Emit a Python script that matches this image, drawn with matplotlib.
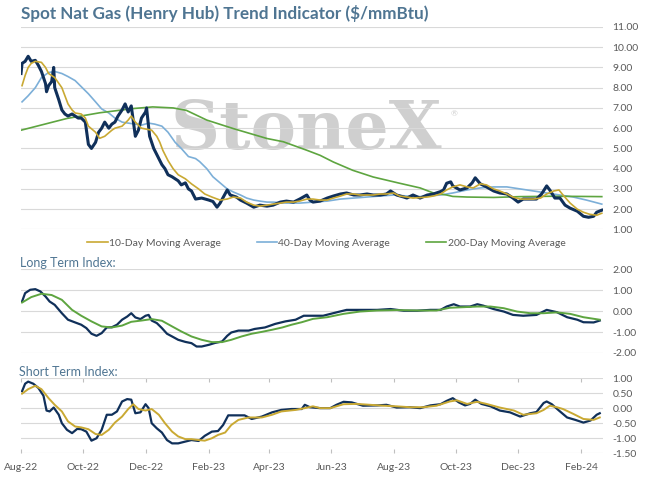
import matplotlib
matplotlib.use('Agg')
import matplotlib.pyplot as plt
import matplotlib.dates as mdates
from matplotlib.ticker import FormatStrFormatter, MultipleLocator
import pandas as pd

plt.rcParams['font.family'] = ['Lato', 'DejaVu Sans']
plt.rcParams['axes.unicode_minus'] = False

START = pd.Timestamp('2022-08-01')

# --- spot price and moving averages ($/mmBtu), x = days since START ---
price_days = [0, 1, 4, 7, 10, 14, 17, 20, 24, 25, 27, 30, 32, 33, 37, 40, 43, 46, 50, 53,
              56, 59, 63, 66, 69, 73, 76, 79, 82, 86, 89, 92, 95, 99, 102, 105, 108, 112,
              115, 118, 122, 123, 126, 130, 135, 138, 141, 144, 148, 151, 154, 157, 161,
              164, 167, 171, 177, 184, 188, 192, 195, 202, 205, 208, 211, 215, 221, 228,
              234, 241, 247, 254, 260, 267, 273, 280, 283, 286, 293, 300, 306, 313, 319,
              326, 332, 339, 345, 352, 358, 362, 368, 375, 378, 384, 391, 398, 404, 411,
              414, 417, 421, 423, 430, 437, 442, 445, 450, 456, 463, 469, 476, 482, 487,
              492, 499, 505, 510, 515, 518, 523, 528, 533, 538, 545, 551, 556, 561, 564, 569]
price = [8.7, 9.2, 9.3, 9.55, 9.3, 9.35, 9.1, 8.8, 8.2, 7.8, 8.1, 8.3, 9.0, 8.0, 7.4, 6.9,
         6.7, 6.6, 6.7, 6.6, 6.5, 6.5, 6.3, 5.2, 5.0, 5.3, 5.8, 6.0, 6.3, 6.0, 6.2, 6.3, 6.6,
         6.9, 7.2, 6.8, 7.1, 5.6, 5.9, 6.5, 6.8, 7.0, 5.6, 5.0, 4.5, 4.2, 4.0, 3.7, 3.6, 3.5,
         3.4, 3.2, 3.3, 3.0, 2.9, 2.5, 2.55, 2.45, 2.38, 2.1, 2.3, 2.95, 2.7, 2.65, 2.6,
         2.45, 2.3, 2.1, 2.2, 2.15, 2.2, 2.35, 2.4, 2.35, 2.5, 2.7, 2.45, 2.35, 2.4, 2.55,
         2.65, 2.75, 2.8, 2.7, 2.7, 2.75, 2.7, 2.7, 2.75, 2.9, 2.7, 2.6, 2.55, 2.7, 2.55,
         2.7, 2.75, 2.87, 2.95, 3.28, 3.35, 3.15, 2.95, 3.05, 3.3, 3.55, 3.25, 3.1, 2.9,
         2.8, 2.75, 2.55, 2.35, 2.5, 2.5, 2.5, 2.75, 3.15, 2.95, 2.55, 2.55, 2.2, 2.05, 1.9,
         1.65, 1.6, 1.65, 1.85, 1.95]

ma10_days = [1, 4, 7, 10, 14, 20, 24, 27, 30, 33, 40, 43, 46, 50, 53, 59, 63, 66, 73, 77,
             82, 89, 92, 99, 105, 108, 112, 118, 123, 128, 133, 136, 139, 144, 149, 154,
             161, 167, 174, 180, 187, 195, 202, 208, 215, 221, 228, 234, 241, 247, 254,
             260, 267, 273, 280, 286, 293, 300, 306, 313, 319, 326, 332, 339, 345, 352,
             358, 365, 371, 378, 384, 398, 404, 411, 417, 423, 430, 437, 443, 450, 456,
             463, 469, 476, 482, 489, 496, 502, 509, 515, 522, 527, 531, 538, 545, 551,
             557, 564, 569]
ma10 = [8.1, 8.6, 9.0, 9.2, 9.3, 9.25, 9.0, 8.7, 8.6, 8.5, 8.0, 7.6, 7.2, 6.9, 6.75, 6.7,
        6.5, 6.1, 5.8, 5.5, 5.6, 5.9, 6.0, 6.1, 6.4, 6.6, 6.3, 6.0, 5.95, 5.9, 5.6, 5.3,
        4.9, 4.4, 4.0, 3.7, 3.5, 3.25, 3.0, 2.75, 2.6, 2.45, 2.5, 2.6, 2.55, 2.35, 2.2,
        2.15, 2.2, 2.25, 2.3, 2.35, 2.35, 2.4, 2.5, 2.5, 2.45, 2.45, 2.55, 2.65, 2.75,
        2.75, 2.7, 2.7, 2.7, 2.75, 2.75, 2.8, 2.65, 2.6, 2.55, 2.6, 2.65, 2.75, 2.95, 3.1,
        3.2, 3.1, 3.05, 3.25, 3.2, 3.0, 2.9, 2.75, 2.6, 2.5, 2.5, 2.5, 2.55, 2.75, 2.9,
        2.95, 2.7, 2.3, 2.0, 1.85, 1.75, 1.7, 1.8]

ma40_days = [1, 7, 14, 20, 27, 33, 40, 46, 53, 59, 66, 73, 79, 86, 92, 99, 105, 112, 118,
             125, 131, 138, 144, 151, 157, 164, 171, 175, 182, 188, 195, 202, 208, 215,
             221, 228, 234, 241, 247, 260, 273, 286, 300, 313, 326, 339, 352, 365, 378,
             384, 398, 411, 423, 437, 450, 463, 476, 489, 502, 515, 528, 541, 554, 569]
ma40 = [7.3, 7.6, 8.0, 8.5, 8.75, 8.8, 8.7, 8.55, 8.35, 8.05, 7.7, 7.3, 6.95, 6.75, 6.5,
        6.3, 6.25, 6.2, 6.15, 6.25, 6.2, 6.1, 5.8, 5.3, 5.0, 4.6, 4.5, 4.35, 4.0, 3.6, 3.3,
        3.0, 2.85, 2.7, 2.55, 2.45, 2.4, 2.35, 2.35, 2.3, 2.3, 2.35, 2.4, 2.5, 2.55, 2.6,
        2.65, 2.7, 2.65, 2.6, 2.65, 2.7, 2.8, 2.95, 3.05, 3.1, 3.1, 3.0, 2.9, 2.8, 2.7,
        2.6, 2.45, 2.25]

ma200_days = [0, 45, 77, 110, 129, 149, 162, 182, 208, 241, 257, 280, 293, 306, 325, 345,
              371, 391, 404, 417, 423, 437, 463, 489, 521, 548, 569]
ma200 = [5.9, 6.48, 6.76, 6.97, 7.05, 7.0, 6.88, 6.4, 5.98, 5.49, 5.33, 4.91, 4.66, 4.33,
         3.92, 3.59, 3.28, 3.05, 2.8, 2.7, 2.63, 2.6, 2.58, 2.62, 2.64, 2.63, 2.62]

# --- long term index ---
lt_days = [1, 4, 9, 14, 19, 24, 28, 33, 40, 46, 53, 59, 64, 69, 74, 79, 84, 89, 94, 99,
           104, 108, 112, 117, 122, 125, 128, 133, 138, 143, 148, 154, 161, 167, 172, 177,
           184, 190, 197, 202, 206, 213, 223, 229, 239, 249, 259, 269, 277, 286, 296, 309,
           319, 336, 349, 362, 375, 388, 401, 411, 417, 424, 430, 440, 447, 453, 463, 473,
           482, 492, 505, 515, 525, 535, 545, 551, 561, 567]
lt_index = [0.46, 0.86, 1.02, 1.05, 0.94, 0.7, 0.46, 0.3, -0.1, -0.41, -0.54, -0.65, -0.81,
            -1.08, -1.18, -1.05, -0.78, -0.77, -0.65, -0.41, -0.26, -0.1, -0.3, -0.38,
            -0.22, -0.18, -0.45, -0.57, -0.81, -1.08, -1.21, -1.37, -1.47, -1.53, -1.69,
            -1.69, -1.61, -1.52, -1.45, -1.18, -1.02, -0.93, -0.93, -0.85, -0.78, -0.61,
            -0.49, -0.41, -0.22, -0.22, -0.22, -0.06, 0.06, 0.06, 0.06, 0.1, 0.02, 0.02,
            0.06, 0.06, 0.22, 0.33, 0.22, 0.22, 0.33, 0.26, 0.1, -0.02, -0.18, -0.22,
            -0.18, 0.06, -0.05, -0.29, -0.41, -0.53, -0.54, -0.45]

lt_avg_days = [1, 10, 20, 30, 40, 50, 59, 69, 79, 89, 99, 108, 118, 128, 138, 148, 157, 167,
               177, 187, 197, 206, 216, 226, 236, 246, 256, 265, 275, 286, 300, 316, 332,
               349, 368, 388, 407, 420, 434, 447, 460, 473, 486, 499, 512, 525, 538, 551, 567]
lt_avg = [0.41, 0.67, 0.83, 0.77, 0.54, 0.06, -0.22, -0.49, -0.73, -0.78, -0.69, -0.51,
          -0.45, -0.38, -0.46, -0.73, -0.97, -1.21, -1.37, -1.48, -1.48, -1.37, -1.21,
          -1.08, -0.99, -0.89, -0.78, -0.65, -0.53, -0.37, -0.29, -0.13, -0.02, 0.03, 0.05,
          0.03, 0.03, 0.16, 0.19, 0.22, 0.22, 0.14, -0.02, -0.1, -0.1, -0.06, -0.13, -0.29,
          -0.41]

# --- short term index ---
st_days = [1, 4, 7, 12, 17, 22, 25, 28, 32, 37, 40, 45, 50, 55, 59, 64, 69, 74, 79, 84, 89,
           94, 99, 104, 108, 112, 117, 122, 125, 128, 133, 138, 143, 148, 154, 161, 167,
           174, 180, 187, 193, 198, 203, 210, 219, 226, 236, 246, 255, 265, 275, 278, 283,
           293, 303, 309, 316, 324, 335, 349, 358, 368, 381, 391, 401, 411, 417, 423, 429,
           435, 440, 445, 451, 460, 469, 479, 489, 499, 505, 512, 515, 520, 527, 535, 543,
           551, 558, 564, 567]
st_index = [0.56, 0.81, 0.88, 0.81, 0.67, 0.41, -0.08, -0.11, 0.02, -0.22, -0.5, -0.72,
            -0.83, -0.69, -0.7, -0.78, -1.08, -1.0, -0.72, -0.22, -0.22, -0.11, 0.22, 0.3,
            0.28, -0.17, -0.14, 0.13, 0.0, -0.5, -0.67, -0.81, -1.06, -1.17, -1.17, -1.11,
            -1.06, -1.09, -0.92, -0.78, -0.76, -0.56, -0.24, -0.24, -0.24, -0.36, -0.28,
            -0.14, -0.06, -0.03, -0.03, 0.11, 0.03, 0.0, 0.0, 0.11, 0.21, 0.19, 0.08, 0.09,
            0.11, 0.02, 0.03, 0.0, 0.09, 0.13, 0.24, 0.33, 0.19, 0.09, 0.14, 0.28, 0.14,
            0.06, -0.08, -0.14, -0.28, -0.17, -0.13, 0.17, 0.22, 0.13, -0.08, -0.31, -0.39,
            -0.48, -0.41, -0.22, -0.17]

st_avg_days = [1, 7, 14, 20, 27, 33, 40, 46, 53, 59, 66, 73, 79, 86, 92, 99, 105, 110, 115,
               122, 128, 135, 141, 148, 154, 161, 167, 174, 180, 187, 193, 200, 206, 213,
               223, 236, 246, 255, 269, 278, 286, 293, 303, 316, 329, 342, 355, 368, 381,
               394, 407, 420, 427, 437, 447, 456, 469, 483, 492, 505, 512, 518, 525, 531,
               541, 551, 561, 567]
st_avg = [0.48, 0.63, 0.74, 0.63, 0.33, 0.11, -0.11, -0.44, -0.61, -0.64, -0.7, -0.86,
          -0.89, -0.72, -0.48, -0.28, -0.03, 0.13, -0.03, -0.08, -0.03, -0.22, -0.5, -0.78,
          -0.94, -1.03, -1.03, -1.06, -1.08, -1.0, -0.89, -0.81, -0.56, -0.39, -0.31, -0.31,
          -0.22, -0.11, -0.06, 0.0, 0.06, 0.0, 0.0, 0.13, 0.14, 0.11, 0.08, 0.06, 0.03, 0.03,
          0.08, 0.22, 0.26, 0.14, 0.21, 0.14, 0.02, -0.08, -0.22, -0.17, -0.06, 0.08, 0.03,
          -0.03, -0.19, -0.36, -0.39, -0.31]

NAVY = '#10305a'
GOLD = '#c9a933'
BLUE = '#7cafd8'
GREEN = '#5ea540'
GRID = '#d9d9d9'
TXT = '#595959'
HEAD = '#4f7592'


def to_dates(days):
    return START + pd.to_timedelta(days, unit='D')


def style_axis(ax, lo, hi, step):
    ax.set_ylim(lo, hi)
    ax.yaxis.set_major_locator(MultipleLocator(step))
    ax.yaxis.set_major_formatter(FormatStrFormatter('%.2f'))
    ax.yaxis.tick_right()
    ax.tick_params(axis='y', length=0, pad=7, labelsize=7.5, labelcolor=TXT)
    ax.grid(axis='y', color=GRID, linewidth=0.8)
    ax.set_axisbelow(True)
    for s in ax.spines.values():
        s.set_visible(False)
    ax.set_xlim(START, START + pd.Timedelta(days=570))
    ax.xaxis.set_major_locator(mdates.MonthLocator(bymonth=[2, 4, 6, 8, 10, 12]))
    ax.xaxis.set_major_formatter(mdates.DateFormatter('%b-%y'))
    ax.tick_params(axis='x', length=0, labelbottom=False)


fig = plt.figure(figsize=(6.45, 4.8), dpi=100)
ax1 = fig.add_axes([0.0326, 0.522, 0.902, 0.4219])
ax2 = fig.add_axes([0.0326, 0.2646, 0.902, 0.1744])
ax3 = fig.add_axes([0.0326, 0.0556, 0.902, 0.1569])

# top: price
style_axis(ax1, 1, 11, 1)
ax1.text(0.49, 0.49, 'StoneX', transform=ax1.transAxes, ha='center', va='center',
         fontsize=49, fontweight='bold', family='DejaVu Serif', color='#cfcfcf', zorder=0)
ax1.text(0.745, 0.57, '\u00ae', transform=ax1.transAxes, ha='center', va='center',
         fontsize=6, color='#cfcfcf', zorder=0)
l10, = ax1.plot(to_dates(ma10_days), ma10, color=GOLD, lw=1.2, label='10-Day Moving Average', zorder=3)
l40, = ax1.plot(to_dates(ma40_days), ma40, color=BLUE, lw=1.2, label='40-Day Moving Average', zorder=2)
l200, = ax1.plot(to_dates(ma200_days), ma200, color=GREEN, lw=1.2, label='200-Day Moving Average', zorder=2)
ax1.plot(to_dates(price_days), price, color=NAVY, lw=2.2, zorder=2.5)
ax1.legend(handles=[l10, l40, l200], loc='center', bbox_to_anchor=(0.506, 0.494),
           bbox_transform=fig.transFigure, ncol=3, frameon=False, fontsize=7.5,
           labelcolor=TXT, handlelength=2.0, handletextpad=0.1, columnspacing=3.4)

fig.text(0.032, 0.971, 'Spot Nat Gas (Henry Hub) Trend Indicator ($/mmBtu)',
         fontsize=12.3, fontweight='bold', color=HEAD, va='center')

# middle: long term index
style_axis(ax2, -2, 2, 1)
ax2.plot(to_dates(lt_days), lt_index, color=NAVY, lw=1.6)
ax2.plot(to_dates(lt_avg_days), lt_avg, color=GREEN, lw=1.4)
fig.text(0.031, 0.452, 'Long Term Index:', fontsize=9, color=HEAD, va='center')

# bottom: short term index
style_axis(ax3, -1.5, 1, 0.5)
ax3.plot(to_dates(st_days), st_index, color=NAVY, lw=1.6)
ax3.plot(to_dates(st_avg_days), st_avg, color=GOLD, lw=1.4)
ax3.tick_params(axis='x', labelbottom=True, labelsize=7.5, labelcolor=TXT, pad=7,
                top=True, direction='in', length=3, color='#bfbfbf')
fig.text(0.029, 0.226, 'Short Term Index:', fontsize=9, color=HEAD, va='center')

fig.savefig('out.png', dpi=100)
